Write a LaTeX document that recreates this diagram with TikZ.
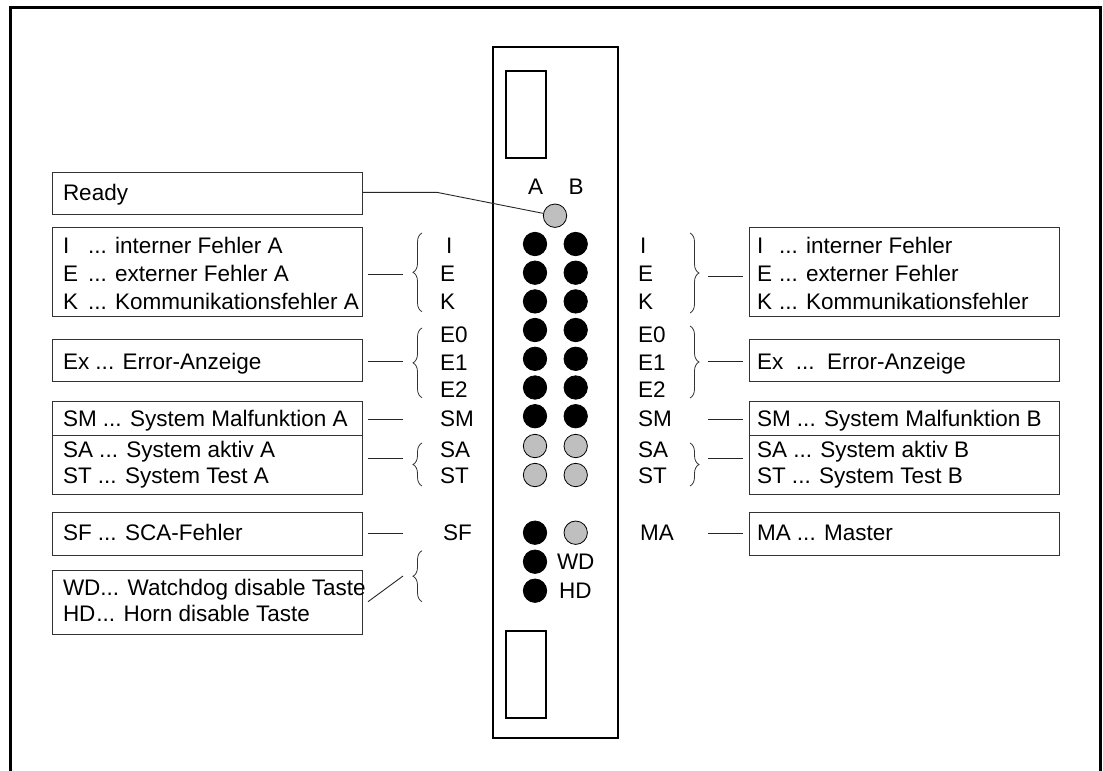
\documentclass[tikz,border=0pt]{standalone}
\usepackage{fontspec}
\setmainfont{Liberation Sans}
\usetikzlibrary{decorations.pathreplacing}
\begin{document}
\begin{tikzpicture}[x=1pt,y=-1pt,
  every node/.style={font=\fontsize{22.5}{26}\selectfont, inner sep=0pt, outer sep=0pt},
  infobox/.style={draw=black!80, line width=0.9pt, minimum width=310pt, anchor=north west},
  lbl/.style={anchor=base west},
  ctr/.style={anchor=base},
  ledblack/.style={circle, draw=black, fill=black, line width=0.8pt, minimum size=23.4pt},
  ledgray/.style={circle, draw=black, fill=black!25, line width=0.8pt, minimum size=23.4pt},
  conn/.style={draw=black!85, line width=0.9pt},
  bracel/.style={draw=black!80, line width=0.8pt, decorate, decoration={brace, amplitude=9pt}},
  frame/.style={line width=2.5pt},
  panel/.style={line width=2pt}
]
\useasboundingbox (0,0) rectangle (1103,771);

% outer frame (open at the bottom)
\draw[frame] (10.5,771) -- (10.5,7.5) -- (1100.5,7.5) -- (1100.5,771);

% panel
\draw[panel] (492.7,46.7) rectangle (617.7,738);
\draw[panel] (506,70.7) rectangle (546,157.7);
\draw[panel] (506,631) rectangle (546,718);

% column headers
\node[ctr] (hA) at (535.7,194) {A};
\node[ctr] (hB) at (576,194) {B};

% LEDs
\node[ledgray] (rdy) at (555,215.7) {};
\foreach \n/\y in {I/244,E/272.7,K/301.4,Ez/330,Eo/358.8,Et/387.5,SM/416.2}{
  \node[ledblack] (a\n) at (535,\y) {};
  \node[ledblack] (b\n) at (575.7,\y) {};
}
\foreach \n/\y in {SA/446,ST/475}{
  \node[ledgray] (a\n) at (535,\y) {};
  \node[ledgray] (b\n) at (575.7,\y) {};
}
\node[ledblack] (aSF) at (535,532.7) {};
\node[ledgray] (bSF) at (575.7,532.7) {};
\node[ledblack] (aWD) at (535,561.7) {};
\node[ledblack] (aHD) at (535,590.7) {};
\node[lbl] (tWD) at (557,569.6) {WD};
\node[lbl] (tHD) at (559,598.6) {HD};

% left labels next to the panel
\node[lbl] (lI) at (446,253.6) {I};
\node[lbl] (lE) at (440,281.2) {E};
\node[lbl] (lK) at (440,309.6) {K};
\node[lbl] (lE0) at (440,342.9) {E0};
\node[lbl] (lE1) at (440,370.6) {E1};
\node[lbl] (lE2) at (440,397.9) {E2};
\node[lbl] (lSM) at (440,426.2) {SM};
\node[lbl] (lSA) at (440,457.2) {SA};
\node[lbl] (lST) at (440,483) {ST};
\node[lbl] (lSF) at (443,540.6) {SF};

% right labels next to the panel
\node[lbl] (rI) at (640,253.6) {I};
\node[lbl] (rE) at (638,281.2) {E};
\node[lbl] (rK) at (638,309.6) {K};
\node[lbl] (rE0) at (638,342.9) {E0};
\node[lbl] (rE1) at (638,370.6) {E1};
\node[lbl] (rE2) at (638,397.9) {E2};
\node[lbl] (rSM) at (638,426.2) {SM};
\node[lbl] (rSA) at (638,457.2) {SA};
\node[lbl] (rST) at (638,483) {ST};
\node[lbl] (rMA) at (640,540.6) {MA};

% left boxes
\node[infobox, minimum height=41.6pt] (bReady) at (52.3,172.7) {};
\node[infobox, minimum height=89pt] (bIEKl) at (52.3,227.7) {};
\node[infobox, minimum height=42.5pt] (bExl) at (52.3,339) {};
\node[infobox, minimum height=34pt] (bSMl) at (52.3,401) {};
\node[infobox, minimum height=59pt] (bSAl) at (52.3,435) {};
\node[infobox, minimum height=42.3pt] (bSFl) at (52.3,512.7) {};
\node[infobox, minimum height=64pt] (bWDl) at (52.3,570) {};

% right boxes
\node[infobox, minimum height=89pt] (bIEKr) at (749,227.7) {};
\node[infobox, minimum height=42pt] (bExr) at (749,339) {};
\node[infobox, minimum height=34pt] (bSMr) at (749,401) {};
\node[infobox, minimum height=59pt] (bSAr) at (749,435) {};
\node[infobox, minimum height=42.3pt] (bMAr) at (749,512.7) {};

% left box texts
\node[lbl] (tReady) at (63,200.6) {Ready};
\node[lbl] (tI1) at (63,253.6) {I};
\node[lbl] (tI2) at (88,253.6) {... interner Fehler A};
\node[lbl] (tE1) at (63,281.2) {E};
\node[lbl] (tE2) at (88,281.2) {... externer Fehler A};
\node[lbl] (tK1) at (63,309.6) {K};
\node[lbl] (tK2) at (88,309.6) {... Kommunikationsfehler A};
\node[lbl] (tExl) at (63,369) {Ex ... Error-Anzeige};
\node[lbl] (tSMl) at (63,426.2) {SM ... System Malfunktion A};
\node[lbl] (tSAl) at (63,457.2) {SA ... System aktiv A};
\node[lbl] (tSTl) at (63,483) {ST ... System Test A};
\node[lbl] (tSFl) at (63,540.6) {SF ... SCA-Fehler};
\node[lbl] (tWDl) at (63,595) {WD... Watchdog disable Taste};
\node[lbl] (tHDl) at (63,621) {HD\hspace{1pt}... Horn disable Taste};

% right box texts
\node[lbl] (uI1) at (757,253.6) {I};
\node[lbl] (uI2) at (779,253.6) {... interner Fehler};
\node[lbl] (uE1) at (757,281.2) {E};
\node[lbl] (uE2) at (779,281.2) {... externer Fehler};
\node[lbl] (uK1) at (757,309.6) {K};
\node[lbl] (uK2) at (779,309.6) {... Kommunikationsfehler};
\node[lbl] (uEx) at (757,369) {Ex\ \ ...\ \ Error-Anzeige};
\node[lbl] (uSM) at (757,426.2) {SM ... System Malfunktion B};
\node[lbl] (uSA) at (757,457.2) {SA ... System aktiv B};
\node[lbl] (uST) at (757,483) {ST ... System Test B};
\node[lbl] (uMA) at (757,540.6) {MA ... Master};

% braces
\draw[bracel] (422,311.7) -- (422,233);
\draw[bracel] (422,397.7) -- (422,328);
\draw[bracel] (422,486) -- (422,443);
\draw[bracel] (422,601.7) -- (422,550.7);
\draw[bracel] (690,233) -- (690,313);
\draw[bracel] (690,326) -- (690,398);
\draw[bracel] (690,443) -- (690,486);

% connector end points
\coordinate (rdyBend) at (436.7,192.3);
\coordinate (cL1a) at (368,274);   \coordinate (cL1b) at (403,274);
\coordinate (cL2a) at (368,361);   \coordinate (cL2b) at (403,361);
\coordinate (cL3a) at (368,419);   \coordinate (cL3b) at (403,419);
\coordinate (cL4a) at (368,458);   \coordinate (cL4b) at (403,458);
\coordinate (cL5a) at (368,533);   \coordinate (cL5b) at (403,533);
\coordinate (cL6a) at (368,601.7); \coordinate (cL6b) at (403,576);
\coordinate (cR1a) at (708,276);   \coordinate (cR1b) at (743,276);
\coordinate (cR2a) at (708,361);   \coordinate (cR2b) at (743,361);
\coordinate (cR3a) at (708,419);   \coordinate (cR3b) at (743,419);
\coordinate (cR4a) at (708,458);   \coordinate (cR4b) at (743,458);
\coordinate (cR5a) at (708,533);   \coordinate (cR5b) at (743,533);

% connectors
\draw[conn] (bReady.east |- rdyBend) -- (rdyBend) -- (rdy);
\foreach \c in {L1,L2,L3,L4,L5,L6,R1,R2,R3,R4,R5}{
  \draw[conn] (c\c a) -- (c\c b);
}
\end{tikzpicture}
\end{document}
